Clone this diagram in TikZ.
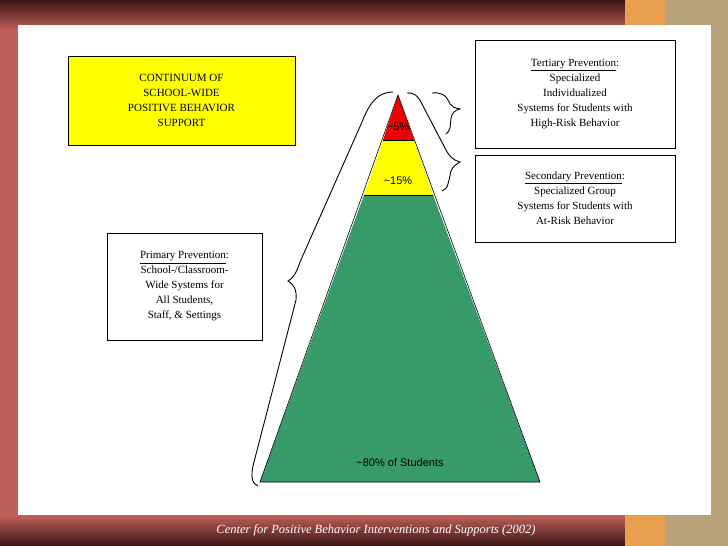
\documentclass[tikz,border=0pt]{standalone}
\usepackage{fontspec}
\setmainfont{Liberation Serif}
\newfontfamily\lsans{Liberation Sans}
\definecolor{bgred}{HTML}{C0605A}
\definecolor{darkred}{HTML}{3A1414}
\definecolor{tan}{HTML}{B8A27A}
\definecolor{orng}{HTML}{E8A050}
\definecolor{pgreen}{HTML}{379A68}
\definecolor{pyellow}{HTML}{FFFF00}
\definecolor{pred}{HTML}{EE0000}
\begin{document}
\begin{tikzpicture}[x=1pt,y=-1pt,
  tbox/.style={draw,line width=0.8pt,align=center,font=\fontsize{11pt}{15pt}\selectfont,inner sep=2pt},
  brace/.style={draw,line width=0.9pt}]
\useasboundingbox (0,0) rectangle (728,546);
% background
\fill[bgred] (0,0) rectangle (728,546);
\shade[top color=darkred,bottom color=bgred] (0,0) rectangle (625,30);
\shade[top color=bgred,bottom color=darkred] (0,515) rectangle (625,546);
\fill[orng] (625,0) rectangle (728,546);
\fill[tan] (665,0) rectangle (728,546);
\fill[white] (18,25) rectangle (711,515);
% pyramid
\fill[pgreen] (260,482) -- (364,195) -- (433,195) -- (540,482) -- cycle;
\fill[pyellow] (364,195) -- (383,140) -- (414,140) -- (433,195) -- cycle;
\fill[pred] (383,140) -- (398,95) -- (414,140) -- cycle;
\draw[line width=0.6pt] (260,482) -- (398,95) -- (540,482) -- cycle;
\draw[line width=0.6pt] (383,140) -- (414,140) (364,195) -- (433,195);
\node[font=\lsans\fontsize{11pt}{13pt}\selectfont] (p5) at (398,127) {\textasciitilde5\%};
\node[font=\lsans\fontsize{11pt}{13pt}\selectfont] (p15) at (398,181) {\textasciitilde15\%};
\node[font=\lsans\fontsize{11pt}{13pt}\selectfont] (p80) at (400,463) {\textasciitilde80\% of Students};
% boxes
\node[tbox,fill=pyellow,minimum width=227pt,minimum height=89pt] (cont) at (181.5,100.5) {CONTINUUM OF\\SCHOOL-WIDE\\POSITIVE BEHAVIOR\\SUPPORT};
\node[tbox,minimum width=200pt,minimum height=108pt] (tert) at (575,94) {\underline{Tertiary Prevention}:\\Specialized\\Individualized\\Systems for Students with\\High-Risk Behavior};
\node[tbox,minimum width=200pt,minimum height=87pt] (sec) at (575,198.5) {\underline{Secondary Prevention}:\\Specialized Group\\Systems for Students with\\At-Risk Behavior};
\node[tbox,minimum width=155pt,minimum height=107pt] (prim) at (184.5,286.5) {\underline{Primary Prevention}:\\School-/Classroom-\\Wide Systems for\\All Students,\\Staff, \& Settings};
% braces
\path[brace] (393,92) .. controls (378,92) and (370,102) .. (362,122) -- (300,262) .. controls (296,274) and (293,278) .. (288,281)
  .. controls (294,284) and (297,290) .. (296,300) -- (254,462) .. controls (250,476) and (252,484) .. (258,486);
\path[brace] (407,93) .. controls (414,92) and (418,96) .. (422,104) -- (446,150) .. controls (450,157) and (453,160) .. (460,162)
  .. controls (453,166) and (450,170) .. (450,176) -- (448,184) .. controls (447,188) and (445,190) .. (442,191);
\path[brace] (432,93) .. controls (440,92) and (446,95) .. (448,100) -- (450,104) .. controls (452,107) and (455,108) .. (460,109)
  .. controls (455,110) and (452,113) .. (451,118) -- (450,128) .. controls (449,131) and (448,133) .. (446,134);
% footer
\node[text=white,font=\itshape\fontsize{12.5pt}{15pt}\selectfont] (foot) at (376,530) {Center for Positive Behavior Interventions and Supports (2002)};
\end{tikzpicture}
\end{document}
